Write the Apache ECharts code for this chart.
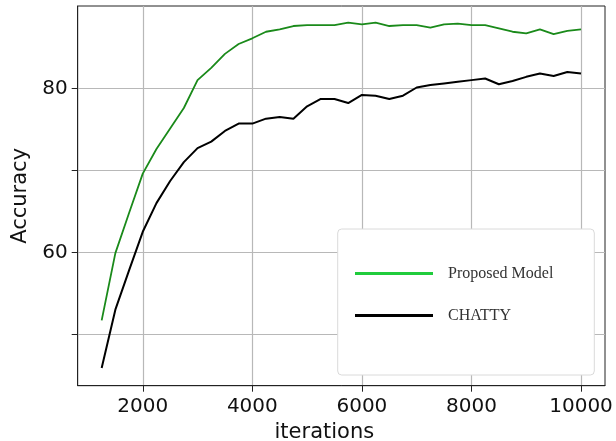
<!DOCTYPE html>
<html>
<head>
<meta charset="utf-8">
<script src="https://cdn.jsdelivr.net/npm/echarts@6/dist/echarts.min.js"></script>
<style>
  html, body { margin: 0; padding: 0; background: #fff; }
  #chart { width: 616px; height: 441px; }
</style>
</head>
<body>
<div id="chart"></div>
<script>
// iterations (x)
var iterations = [1250, 1500, 1750, 2000, 2250, 2500, 2750, 3000, 3250, 3500, 3750, 4000,
    4250, 4500, 4750, 5000, 5250, 5500, 5750, 6000, 6250, 6500, 6750, 7000,
    7250, 7500, 7750, 8000, 8250, 8500, 8750, 9000, 9250, 9500, 9750, 10000];

var proposedAcc = [51.7, 59.9, 64.8, 69.6, 72.6, 75.1, 77.6, 81.0, 82.5, 84.2, 85.4, 86.1,
    86.9, 87.2, 87.6, 87.7, 87.7, 87.7, 88.0, 87.8, 88.0, 87.6, 87.7, 87.7,
    87.4, 87.8, 87.9, 87.7, 87.7, 87.3, 86.9, 86.7, 87.2, 86.6, 87.0, 87.2];

var chattyAcc = [45.9, 53.0, 57.8, 62.5, 66.0, 68.7, 71.0, 72.7, 73.5, 74.8, 75.7, 75.7,
    76.3, 76.5, 76.3, 77.8, 78.7, 78.7, 78.2, 79.2, 79.1, 78.7, 79.1, 80.1,
    80.4, 80.6, 80.8, 81.0, 81.2, 80.5, 80.9, 81.4, 81.8, 81.5, 82.0, 81.8];

var xTicks = [2000, 4000, 6000, 8000, 10000];
var yTicks = [50, 60, 70, 80];
var yLabels = [60, 80];

var seriesNames = ['Proposed Model', 'CHATTY'];

function pairs(xs, ys) {
    return xs.map(function (x, i) { return [x, ys[i]]; });
}

var chartDom = document.getElementById('chart');
var myChart = echarts.init(chartDom, null, { renderer: 'canvas' });
var option;

var axisFont = 'DejaVu Sans';

option = {
    animation: false,
    backgroundColor: '#fff',
    grid: {
        left: 77.7,
        right: 11,
        top: 6,
        bottom: 55.3,
        outerBoundsMode: 'none',
        containLabel: false,
        show: true,
        borderColor: '#222',
        borderWidth: 1,
        backgroundColor: 'transparent'
    },
    xAxis: {
        type: 'value',
        min: 812.5,
        max: 10437.5,
        name: 'iterations',
        nameLocation: 'middle',
        nameGap: 33,
        nameTextStyle: {
            fontFamily: axisFont,
            fontSize: 21,
            color: '#111',
            padding: [0, 34, 0, 0]
        },
        axisLine: { show: true, lineStyle: { color: '#222', width: 1 } },
        axisTick: { show: true, length: 6, customValues: xTicks, lineStyle: { color: '#222' } },
        axisLabel: {
            customValues: xTicks,
            margin: 11,
            fontFamily: axisFont,
            fontSize: 20,
            color: '#111',
            formatter: function (v) { return String(v); }
        },
        splitLine: { show: true, lineStyle: { color: '#b8b8b8', width: 1.2 } }
    },
    yAxis: {
        type: 'value',
        min: 43.73,
        max: 90.04,
        name: 'Accuracy',
        nameLocation: 'middle',
        nameGap: 41,
        nameTextStyle: {
            fontFamily: axisFont,
            fontSize: 21,
            color: '#111'
        },
        axisLine: { show: true, lineStyle: { color: '#222', width: 1 } },
        axisTick: { show: true, length: 6, customValues: yTicks, lineStyle: { color: '#222' } },
        axisLabel: {
            customValues: yLabels,
            margin: 10,
            fontFamily: axisFont,
            fontSize: 20,
            color: '#111'
        },
        splitLine: { show: true, lineStyle: { color: '#b8b8b8', width: 1.2 } }
    },
    legend: {
        orient: 'vertical',
        left: 350,
        top: 260.5,
        itemWidth: 78,
        itemHeight: 3,
        itemGap: 26,
        icon: 'rect',
        z: 10,
        textStyle: {
            fontFamily: 'Liberation Serif',
            fontSize: 16,
            color: '#333',
            padding: [0, 0, 0, 10]
        },
        data: [
            { name: seriesNames[0], itemStyle: { color: '#20cc3c' } },
            { name: seriesNames[1], itemStyle: { color: '#000' } }
        ]
    },
    graphic: [{
        type: 'rect',
        z: 5,
        shape: { x: 337.7, y: 229, width: 256.6, height: 146, r: 4 },
        style: { fill: '#fff', stroke: '#dadada', lineWidth: 1 }
    }],
    series: [
        {
            name: seriesNames[0],
            type: 'line',
            showSymbol: false,
            symbol: 'none',
            z: 3,
            lineStyle: { color: '#1a8a1a', width: 1.8 },
            itemStyle: { color: '#1a8a1a' },
            data: pairs(iterations, proposedAcc)
        },
        {
            name: seriesNames[1],
            type: 'line',
            showSymbol: false,
            symbol: 'none',
            z: 3,
            lineStyle: { color: '#000', width: 2 },
            itemStyle: { color: '#000' },
            data: pairs(iterations, chattyAcc)
        }
    ]
};

option && myChart.setOption(option);
</script>
</body>
</html>
